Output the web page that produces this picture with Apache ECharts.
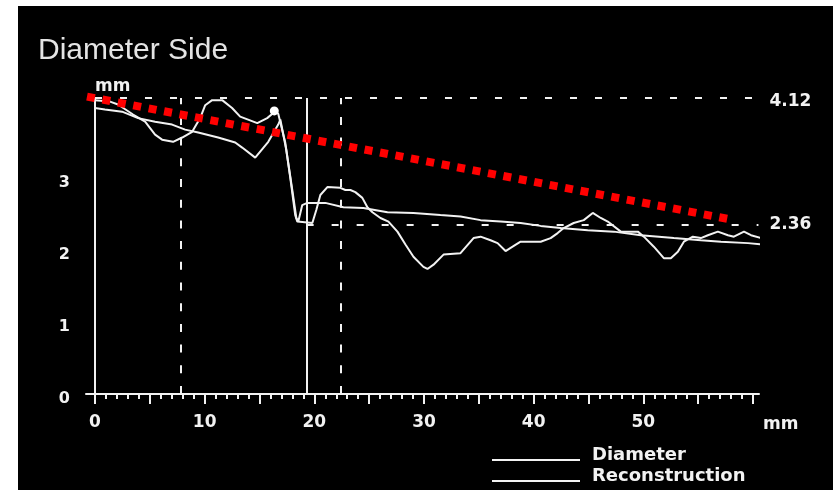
<!DOCTYPE html>
<html>
<head>
<meta charset="utf-8">
<title>Diameter Side</title>
<script src="https://cdn.jsdelivr.net/npm/echarts@6/dist/echarts.min.js"></script>
<style>
  html, body { margin: 0; padding: 0; background: #fff; }
  #chart {
    width: 833px; height: 490px;
    background: linear-gradient(#000, #000) 18px 6px / 815px 484px no-repeat, #fff;
  }
</style>
</head>
<body>
<div id="chart"></div>
<script>
// Axis ticks and labels (mm along the vessel, mm of diameter)
const xLabels = [0, 10, 20, 30, 40, 50];
const xMajorTicks = [0, 5, 10, 15, 20, 25, 30, 35, 40, 45, 50, 55, 60];
const xMinorTicks = [0, 1, 2, 3, 4, 5, 6, 7, 8, 9, 10, 11, 12, 13, 14, 15, 16, 17, 18, 19, 20,
  21, 22, 23, 24, 25, 26, 27, 28, 29, 30, 31, 32, 33, 34, 35, 36, 37, 38, 39, 40,
  41, 42, 43, 44, 45, 46, 47, 48, 49, 50, 51, 52, 53, 54, 55, 56, 57, 58, 59, 60];
const yLabels = [0, 1, 2, 3];

// Measured diameter profile [position mm, diameter mm]
const diameterPoints = [
  [0, 4.09], [1.37, 4.07], [2.1, 4.03], [3.47, 3.89], [4.57, 3.79], [5.48, 3.61],
  [6.12, 3.54], [7.12, 3.51], [7.95, 3.57], [8.86, 3.65], [9.59, 3.84], [10.05, 4.02],
  [10.68, 4.09], [11.6, 4.09], [12.5, 3.98], [13.24, 3.86], [14.8, 3.77], [15.7, 3.84],
  [16.26, 3.91], [16.35, 3.94], [16.71, 3.9], [17.35, 3.5], [17.8, 3.02], [18.26, 2.49],
  [18.45, 2.4], [19.82, 2.38], [20.18, 2.56], [20.55, 2.77], [21.19, 2.88], [22.37, 2.87],
  [22.83, 2.84], [23.29, 2.84], [23.74, 2.81], [24.38, 2.73], [24.84, 2.6], [25.3, 2.53],
  [26.03, 2.45], [26.76, 2.4], [27.58, 2.26], [28.31, 2.08], [29.04, 1.91], [29.95, 1.77],
  [30.32, 1.74], [30.87, 1.8], [31.78, 1.94], [33.33, 1.96], [34.52, 2.17], [35.16, 2.19],
  [36.07, 2.14], [36.71, 2.1], [37.44, 1.99], [38.08, 2.05], [38.81, 2.12], [40.64, 2.12],
  [41.55, 2.17], [42.19, 2.24], [42.74, 2.31], [43.65, 2.38], [44.57, 2.42], [45.39, 2.52],
  [46.12, 2.45], [46.76, 2.4], [47.95, 2.26], [49.5, 2.26], [50.05, 2.19], [50.96, 2.05],
  [51.87, 1.89], [52.51, 1.89], [53.15, 1.98], [53.7, 2.12], [54.52, 2.19], [55.25, 2.17],
  [55.89, 2.21], [56.8, 2.26], [57.72, 2.21], [58.26, 2.19], [59.18, 2.26], [59.82, 2.21],
  [60.73, 2.17]
];

// Reconstructed (reference) diameter [position mm, diameter mm]
const reconstructionPoints = [
  [0, 3.98], [0.91, 3.96], [2.47, 3.93], [3.93, 3.84], [5.48, 3.79], [7.03, 3.75],
  [8.22, 3.68], [9.41, 3.64], [11.23, 3.57], [12.79, 3.5], [13.42, 3.43], [14.61, 3.29],
  [15.8, 3.51], [16.71, 3.75], [16.9, 3.82], [17.44, 3.4], [17.99, 2.84], [18.36, 2.45],
  [18.54, 2.4], [18.9, 2.63], [19.36, 2.66], [21.0, 2.66], [22.65, 2.6], [24.47, 2.59],
  [26.67, 2.53], [29.04, 2.52], [31.5, 2.49], [33.33, 2.47], [35.16, 2.42], [36.99, 2.4],
  [38.81, 2.38], [40.64, 2.34], [42.47, 2.31], [44.93, 2.28], [47.31, 2.26], [49.77, 2.21],
  [52.79, 2.17], [55.25, 2.14], [57.08, 2.12], [59.54, 2.1], [60.91, 2.08]
];

// Taper line between proximal and distal reference diameters
const taperPoints = [[-0.73, 4.14], [58.3, 2.42]];

// Peak marker on the measured profile
const peakMarker = [16.35, 3.94];

// Cursor positions (mm) and reference levels (mm)
const cursorSolid = [19.3];
const cursorDashed = [7.8, 22.4];
const levelValues = [4.12, 2.36];
const levelStarts = [0, 19.3];
const levelEnd = 60.5;

const WHITE = '#f2f2f2';
const labelFont = { color: WHITE, fontFamily: 'DejaVu Sans', fontWeight: 'bold' };

// Legend swatch: a thin line sitting at the bottom of its box
const legendIcon = 'path://M0,0L0.01,0L0.01,0.01L0,0.01Z M0,10L88,10L88,12L0,12Z';

const chart = echarts.init(document.getElementById('chart'), null, { renderer: 'canvas' });

const cursorLines = [
  ...cursorSolid.map(v => ({ xAxis: v, lineStyle: { type: 'solid', width: 2, color: WHITE } })),
  ...cursorDashed.map(v => ({ xAxis: v, lineStyle: { type: [8, 12.7], width: 2, color: WHITE } }))
];
// The upper level label sits a little below its line
const levelLines = levelValues.map((v, i) => [
  {
    coord: [levelStarts[i], v],
    label: {
      formatter: '{v|' + v.toFixed(2) + '}',
      rich: { v: Object.assign({ fontSize: 17, padding: [i === 0 ? 7 : 0, 0, 0, 0] }, labelFont) }
    }
  },
  { coord: [levelEnd, v] }
]);

chart.setOption({
  animation: false,
  backgroundColor: 'transparent',
  title: {
    text: 'Diameter Side',
    left: 33, top: 31,
    textStyle: { color: '#e4e4e4', fontFamily: 'Liberation Sans', fontWeight: 'normal', fontSize: 30 }
  },
  legend: {
    data: ['Diameter', 'Reconstruction'],
    orient: 'vertical',
    left: 492, top: 446,
    padding: 0,
    itemGap: 3,
    itemWidth: 88, itemHeight: 12,
    icon: legendIcon,
    selectedMode: false,
    itemStyle: { color: WHITE },
    textStyle: Object.assign({ fontSize: 18, padding: [0, 0, 0, 7] }, labelFont)
  },
  grid: { left: 86, right: 74, top: 98, bottom: 96 },
  xAxis: [
    {
      type: 'value', min: -0.82, max: 60.55,
      axisLine: { lineStyle: { color: WHITE, width: 2 } },
      axisTick: { customValues: xMajorTicks, length: 10, lineStyle: { color: WHITE, width: 2 } },
      axisLabel: Object.assign({ customValues: xLabels, fontSize: 17, margin: 20 }, labelFont),
      splitLine: { show: false },
      name: 'mm', nameLocation: 'end', nameGap: 4,
      nameTextStyle: Object.assign({ fontSize: 17, verticalAlign: 'top', padding: [22, 0, 0, 0] }, labelFont)
    },
    {
      type: 'value', min: -0.82, max: 60.55, position: 'bottom',
      axisLine: { show: false },
      axisTick: { customValues: xMinorTicks, length: 5, lineStyle: { color: WHITE, width: 2 } },
      axisLabel: { show: false },
      splitLine: { show: false }
    }
  ],
  yAxis: {
    type: 'value', min: 0, max: 4.12,
    axisLine: { onZero: true, lineStyle: { color: WHITE, width: 2 } },
    axisTick: { show: false },
    axisLabel: Object.assign({
      customValues: yLabels, margin: 16,
      formatter: '{n|{value}}',
      rich: { n: Object.assign({ fontSize: 16, padding: [9, 0, 0, 0] }, labelFont) }
    }, labelFont),
    splitLine: { show: false },
    name: 'mm', nameLocation: 'end', nameGap: 11,
    nameTextStyle: Object.assign({ fontSize: 17, align: 'left', verticalAlign: 'middle' }, labelFont)
  },
  series: [
    {
      name: 'Diameter', type: 'line', data: diameterPoints,
      showSymbol: false, symbol: 'none', clip: false, silent: true,
      lineStyle: { color: WHITE, width: 2 },
      itemStyle: { color: WHITE },
      markPoint: {
        silent: true, symbol: 'circle', symbolSize: 9,
        itemStyle: { color: '#ffffff' }, label: { show: false },
        data: [{ coord: peakMarker }]
      },
      markLine: {
        silent: true, symbol: 'none', animation: false,
        label: { show: false },
        data: cursorLines
      }
    },
    {
      name: 'Reconstruction', type: 'line', data: reconstructionPoints,
      showSymbol: false, symbol: 'none', clip: false, silent: true,
      lineStyle: { color: WHITE, width: 2 },
      itemStyle: { color: WHITE },
      markLine: {
        silent: true, symbol: 'none', animation: false,
        lineStyle: { type: [7, 18], width: 2, color: WHITE },
        label: Object.assign({ show: true, position: 'end', distance: 11, fontSize: 17 }, labelFont),
        data: levelLines
      }
    },
    {
      name: 'Taper', type: 'line', data: taperPoints, z: 5,
      showSymbol: false, symbol: 'none', clip: false, silent: true,
      lineStyle: { color: '#ff0000', width: 8, type: [8, 7.7], cap: 'butt' }
    }
  ]
});
</script>
</body>
</html>
